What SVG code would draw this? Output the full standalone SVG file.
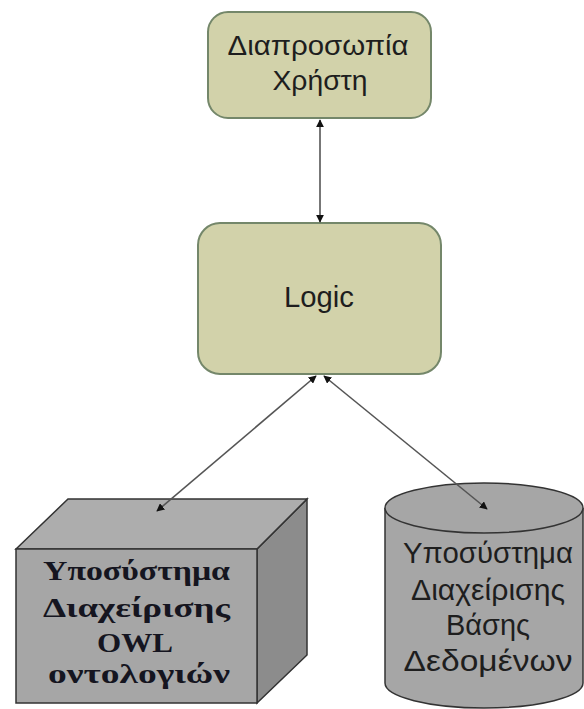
<svg xmlns="http://www.w3.org/2000/svg" width="584" height="709" viewBox="0 0 584 709">
<style>
.rbox{fill:#d2d2aa;stroke:#74876a;stroke-width:2}
.sans{font-family:"Liberation Sans",Arial,sans-serif;fill:#1e1e1e;text-anchor:middle}
.serif{font-family:"Liberation Serif","Times New Roman",serif;font-weight:bold;fill:#151520;text-anchor:middle;font-size:28px}
.conn{stroke:#555;stroke-width:1.6;fill:none;marker-start:url(#ah);marker-end:url(#ah)}
.gray{fill:#a6a6a6;stroke:#333;stroke-width:1.5}
</style>
<defs>
<marker id="ah" viewBox="0 0 10 10" refX="9" refY="5" markerWidth="8" markerHeight="8" orient="auto-start-reverse" markerUnits="userSpaceOnUse">
<path d="M0,0 L10,5 L0,10 z" fill="#111"/>
</marker>
</defs>
<g id="ui">
<rect class="rbox" x="208" y="12" width="223" height="106" rx="20"/>
<text class="sans" x="318" y="55" font-size="28" textLength="181" lengthAdjust="spacingAndGlyphs">Διαπροσωπία</text>
<text class="sans" x="320" y="90" font-size="28" textLength="95" lengthAdjust="spacingAndGlyphs">Χρήστη</text>
</g>
<g id="logic">
<rect class="rbox" x="198" y="223" width="243" height="151" rx="22"/>
<text class="sans" x="319" y="307" font-size="30" textLength="70" lengthAdjust="spacingAndGlyphs">Logic</text>
</g>
<g id="owl">
<polygon points="257,549 307,499 307,655 257,703" fill="#8c8c8c" stroke="#333" stroke-width="1.5"/>
<polygon points="16,549 68,499 307,499 257,549" fill="#adadad" stroke="#333" stroke-width="1.5"/>
<rect class="gray" x="16" y="549" width="241" height="154"/>
<text class="serif" x="136.5" y="580" textLength="187" lengthAdjust="spacingAndGlyphs">Υποσύστημα</text>
<text class="serif" x="136.5" y="617" textLength="187" lengthAdjust="spacingAndGlyphs">Διαχείρισης</text>
<text class="serif" x="135" y="652" textLength="76" lengthAdjust="spacingAndGlyphs">OWL</text>
<text class="serif" x="139" y="683" textLength="182" lengthAdjust="spacingAndGlyphs">οντολογιών</text>
</g>
<g id="db">
<path class="gray" d="M385,508 L385,683 A99,25 0 0 0 583,683 L583,508"/>
<ellipse class="gray" cx="484" cy="508" rx="99" ry="25"/>
<text class="sans" x="488" y="563" font-size="29" textLength="170" lengthAdjust="spacingAndGlyphs">Υποσύστημα</text>
<text class="sans" x="488" y="600" font-size="29" textLength="154" lengthAdjust="spacingAndGlyphs">Διαχείρισης</text>
<text class="sans" x="488" y="635" font-size="29" textLength="84" lengthAdjust="spacingAndGlyphs">Βάσης</text>
<text class="sans" x="488" y="671" font-size="29" textLength="169" lengthAdjust="spacingAndGlyphs">Δεδομένων</text>
</g>
<g id="connectors">
<line class="conn" x1="320" y1="120" x2="320" y2="222"/>
<line class="conn" x1="316" y1="376" x2="157" y2="511"/>
<line class="conn" x1="324" y1="376" x2="487" y2="509"/>
</g>
</svg>
